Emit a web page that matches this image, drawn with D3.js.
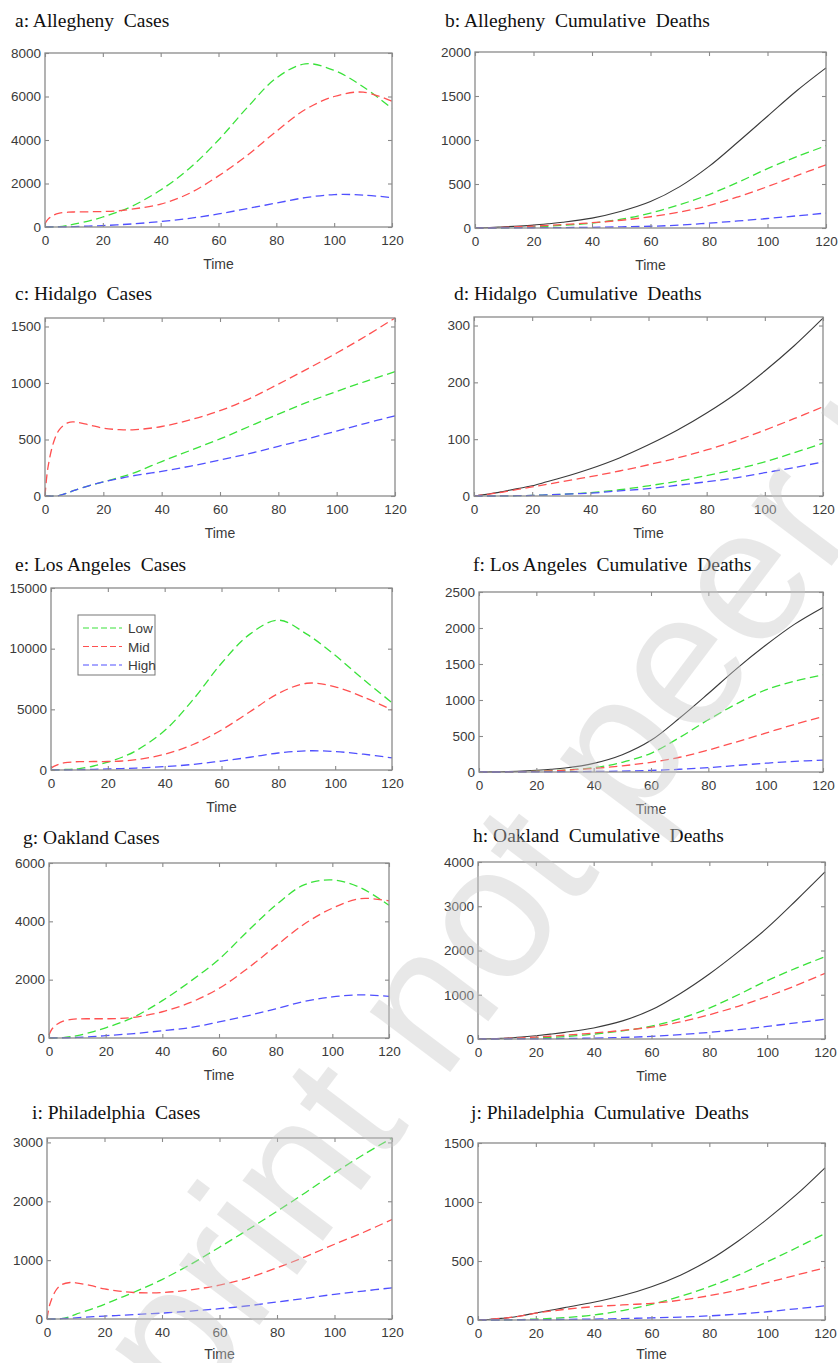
<!DOCTYPE html>
<html>
<head>
<meta charset="utf-8">
<script src="https://cdn.jsdelivr.net/npm/d3@7"></script>
<style>
  body { margin: 0; background: #fff; }
  svg { display: block; }
  .title { font-family: "Liberation Serif", "Times New Roman", serif; font-size: 19.5px; fill: #111; white-space: pre; }
  .tick text, .lab { font-family: "Liberation Sans", Arial, sans-serif; font-size: 13.5px; fill: #3a3a3a; }
  .xlab { font-size: 14px; }
</style>
</head>
<body>
<script>
var width = 838,
    height = 1363;

// time points (days)
var timeDays = [0, 1, 3, 5, 8, 10, 15, 20, 25, 30, 40, 50, 60, 70, 80, 90, 100, 110, 120];

// Allegheny
var alleghenyCasesLow  = [0, 0, 5, 20, 80, 130, 270, 460, 680, 950, 1700, 2700, 4000, 5500, 6850, 7500, 7200, 6450, 5450];
var alleghenyCasesMid  = [150, 350, 550, 640, 680, 690, 700, 710, 740, 820, 1050, 1550, 2350, 3300, 4400, 5400, 6000, 6200, 5780];
var alleghenyCasesHigh = [0, 0, 2, 5, 12, 20, 40, 65, 100, 140, 250, 400, 600, 850, 1100, 1350, 1490, 1470, 1350];
var alleghenyDeathsAll  = [0, 1, 3, 5, 10, 13, 22, 33, 48, 65, 112, 190, 300, 470, 700, 980, 1270, 1560, 1820];
var alleghenyDeathsLow  = [0, 0, 0, 1, 2, 3, 6, 12, 20, 30, 55, 100, 170, 265, 380, 520, 675, 810, 935];
var alleghenyDeathsMid  = [0, 0.5, 2, 3, 6, 8, 15, 22, 30, 40, 60, 88, 128, 182, 255, 355, 470, 595, 718];
var alleghenyDeathsHigh = [0, 0, 0, 0, 0.5, 1, 2, 3, 4, 5, 8, 13, 20, 33, 55, 80, 108, 138, 170];

// Hidalgo
var hidalgoCasesLow  = [0, 0, 0, 5, 30, 50, 90, 125, 160, 200, 305, 405, 505, 615, 725, 830, 925, 1015, 1100];
var hidalgoCasesMid  = [0, 250, 480, 590, 650, 655, 630, 600, 588, 585, 615, 675, 755, 860, 990, 1125, 1265, 1415, 1575];
var hidalgoCasesHigh = [0, 0, 0, 5, 30, 50, 90, 125, 152, 178, 218, 265, 318, 375, 440, 505, 575, 643, 710];
var hidalgoDeathsAll  = [0, 0.5, 2, 3.5, 6, 8, 13, 18, 25, 32, 48, 67, 90, 116, 146, 180, 220, 264, 313];
var hidalgoDeathsLow  = [0, 0, 0, 0, 0, 0.2, 0.5, 1, 2, 3, 6, 11, 18, 26, 36, 47, 60, 76, 93];
var hidalgoDeathsMid  = [0, 0.5, 2, 3, 5.5, 7, 11.5, 16, 20.5, 25, 34, 44, 55, 67, 81, 97, 116, 136, 157];
var hidalgoDeathsHigh = [0, 0, 0, 0, 0, 0.2, 0.5, 1, 2, 3, 5, 9, 13, 19, 25, 32, 41, 50, 60];

// Los Angeles
var laCasesLow  = [0, 5, 15, 40, 80, 120, 330, 650, 1050, 1600, 3250, 5800, 8800, 11200, 12350, 11200, 9450, 7450, 5550];
var laCasesMid  = [150, 300, 500, 600, 670, 690, 700, 700, 740, 850, 1300, 2100, 3300, 4800, 6300, 7150, 6850, 6000, 4950];
var laCasesHigh = [0, 0, 5, 10, 20, 30, 55, 85, 115, 160, 280, 460, 740, 1050, 1400, 1580, 1520, 1300, 1000];
var laDeathsAll  = [0, 0, 1, 2, 4, 6, 14, 25, 38, 55, 120, 240, 440, 750, 1090, 1440, 1760, 2050, 2285];
var laDeathsLow  = [0, 0, 0, 0, 1, 2, 5, 10, 17, 27, 60, 135, 260, 480, 725, 950, 1140, 1260, 1350];
var laDeathsMid  = [0, 0, 0, 0, 1, 2, 5, 10, 16, 25, 50, 85, 135, 205, 305, 420, 540, 660, 770];
var laDeathsHigh = [0, 0, 0, 0, 0, 0.5, 1, 2, 3, 4, 7, 12, 22, 38, 60, 92, 122, 148, 165];

// Oakland
var oaklandCasesLow  = [0, 0, 5, 15, 50, 80, 200, 350, 520, 720, 1280, 1950, 2700, 3650, 4550, 5250, 5420, 5150, 4550];
var oaklandCasesMid  = [100, 300, 480, 580, 640, 655, 660, 660, 670, 710, 900, 1220, 1700, 2380, 3150, 3900, 4450, 4780, 4700];
var oaklandCasesHigh = [0, 0, 2, 5, 12, 20, 45, 80, 115, 150, 250, 360, 550, 760, 1000, 1250, 1410, 1480, 1430];
var oaklandDeathsAll  = [0, 1, 4, 8, 15, 20, 45, 75, 110, 150, 250, 410, 660, 1030, 1470, 1970, 2510, 3130, 3775];
var oaklandDeathsLow  = [0, 0, 1, 2, 4, 6, 12, 22, 36, 55, 110, 185, 290, 465, 700, 1000, 1320, 1600, 1860];
var oaklandDeathsMid  = [0, 1, 3, 5, 9, 13, 25, 42, 62, 85, 135, 195, 270, 385, 548, 740, 960, 1210, 1485];
var oaklandDeathsHigh = [0, 0, 0, 0, 1, 1, 3, 5, 8, 12, 20, 35, 60, 100, 150, 210, 285, 365, 445];

// Philadelphia
var phillyCasesLow  = [0, 0, 0, 5, 40, 80, 160, 250, 350, 450, 670, 930, 1220, 1520, 1830, 2150, 2480, 2790, 3075];
var phillyCasesMid  = [0, 250, 480, 580, 620, 615, 570, 510, 475, 450, 450, 495, 575, 700, 870, 1060, 1270, 1470, 1690];
var phillyCasesHigh = [0, 0, 0, 5, 12, 20, 35, 50, 60, 75, 100, 135, 175, 225, 290, 350, 420, 475, 530];
var phillyDeathsAll  = [0, 1, 4, 8, 14, 18, 36, 60, 82, 105, 150, 207, 282, 380, 508, 670, 855, 1060, 1290];
var phillyDeathsLow  = [0, 0, 0, 0, 1, 1, 4, 8, 13, 20, 42, 80, 133, 200, 282, 380, 493, 610, 733];
var phillyDeathsMid  = [0, 1, 4, 8, 14, 18, 35, 58, 75, 90, 113, 128, 141, 168, 206, 255, 316, 380, 443];
var phillyDeathsHigh = [0, 0, 0, 0, 0, 1, 2, 3, 4, 5, 8, 12, 18, 25, 35, 50, 70, 95, 120];

var xTicks = [0, 20, 40, 60, 80, 100, 120];
var legendLabels = ["Low", "Mid", "High"];

var colors = { low: "#3ae23a", mid: "#ff5050", high: "#5050ff", all: "#3a3a3a" };

// panel layout: box left/right/top/bottom, title position, x label offset
var panels = [
  { title: "a: Allegheny  Cases", tx: 15, ty: 27, x0: 45, x1: 392, y0: 53, y1: 227, lx: 42, ymax: 8000, yTicks: [0, 2000, 4000, 6000, 8000],
    series: [[alleghenyCasesLow, "low"], [alleghenyCasesMid, "mid"], [alleghenyCasesHigh, "high"]] },
  { title: "b: Allegheny  Cumulative  Deaths", tx: 445, ty: 27, x0: 475, x1: 826, y0: 52, y1: 228, lx: 42, ymax: 2000, yTicks: [0, 500, 1000, 1500, 2000],
    series: [[alleghenyDeathsAll, "all"], [alleghenyDeathsLow, "low"], [alleghenyDeathsMid, "mid"], [alleghenyDeathsHigh, "high"]] },
  { title: "c: Hidalgo  Cases", tx: 15, ty: 300, x0: 45, x1: 395, y0: 318, y1: 496, lx: 42, ymax: 1575, yTicks: [0, 500, 1000, 1500],
    series: [[hidalgoCasesLow, "low"], [hidalgoCasesMid, "mid"], [hidalgoCasesHigh, "high"]] },
  { title: "d: Hidalgo  Cumulative  Deaths", tx: 454, ty: 300, x0: 474, x1: 823, y0: 317, y1: 496, lx: 42, ymax: 315, yTicks: [0, 100, 200, 300],
    series: [[hidalgoDeathsAll, "all"], [hidalgoDeathsLow, "low"], [hidalgoDeathsMid, "mid"], [hidalgoDeathsHigh, "high"]] },
  { title: "e: Los Angeles  Cases", tx: 15, ty: 571, x0: 51, x1: 392, y0: 588, y1: 770, lx: 42, ymax: 15000, yTicks: [0, 5000, 10000, 15000], legend: true,
    series: [[laCasesLow, "low"], [laCasesMid, "mid"], [laCasesHigh, "high"]] },
  { title: "f: Los Angeles  Cumulative  Deaths", tx: 473, ty: 571, x0: 479, x1: 823, y0: 592, y1: 772, lx: 42, ymax: 2500, yTicks: [0, 500, 1000, 1500, 2000, 2500],
    series: [[laDeathsAll, "all"], [laDeathsLow, "low"], [laDeathsMid, "mid"], [laDeathsHigh, "high"]] },
  { title: "g: Oakland Cases", tx: 23, ty: 844, x0: 49, x1: 389, y0: 863, y1: 1038, lx: 42, ymax: 6000, yTicks: [0, 2000, 4000, 6000],
    series: [[oaklandCasesLow, "low"], [oaklandCasesMid, "mid"], [oaklandCasesHigh, "high"]] },
  { title: "h: Oakland  Cumulative  Deaths", tx: 473, ty: 842, x0: 478, x1: 825, y0: 862, y1: 1039, lx: 42, ymax: 4000, yTicks: [0, 1000, 2000, 3000, 4000],
    series: [[oaklandDeathsAll, "all"], [oaklandDeathsLow, "low"], [oaklandDeathsMid, "mid"], [oaklandDeathsHigh, "high"]] },
  { title: "i: Philadelphia  Cases", tx: 32, ty: 1119, x0: 47, x1: 392, y0: 1138, y1: 1319, lx: 40, ymax: 3075, yTicks: [0, 1000, 2000, 3000],
    series: [[phillyCasesLow, "low"], [phillyCasesMid, "mid"], [phillyCasesHigh, "high"]] },
  { title: "j: Philadelphia  Cumulative  Deaths", tx: 471, ty: 1119, x0: 478, x1: 825, y0: 1143, y1: 1320, lx: 39, ymax: 1500, yTicks: [0, 500, 1000, 1500],
    series: [[phillyDeathsAll, "all"], [phillyDeathsLow, "low"], [phillyDeathsMid, "mid"], [phillyDeathsHigh, "high"]] }
];

var svg = d3.select("body").append("svg")
    .attr("width", width)
    .attr("height", height);

panels.forEach(function (p) {
  var x = d3.scaleLinear().domain([0, 120]).range([p.x0, p.x1]);
  var y = d3.scaleLinear().domain([0, p.ymax]).range([p.y1, p.y0]);
  var g = svg.append("g");

  g.append("text").attr("class", "title")
      .attr("x", p.tx).attr("y", p.ty).text(p.title);

  // lines
  var line = d3.line()
      .x(function (d, i) { return x(timeDays[i]); })
      .y(function (d) { return y(d); })
      .curve(d3.curveCatmullRom.alpha(0.5));

  p.series.forEach(function (s) {
    g.append("path")
        .datum(s[0])
        .attr("fill", "none")
        .attr("stroke", colors[s[1]])
        .attr("stroke-width", s[1] == "all" ? 1.1 : 1.3)
        .attr("stroke-dasharray", s[1] == "all" ? null : "8.5,4.5")
        .attr("d", line);
  });

  // axes with inward ticks, box style
  var axisCol = "#8a8a8a";
  g.append("g").attr("transform", "translate(0," + p.y1 + ")")
      .call(d3.axisBottom(x).tickValues(xTicks).tickSizeInner(-4).tickSizeOuter(0).tickPadding(8))
      .call(styleAxis);
  g.append("g").attr("transform", "translate(0," + p.y0 + ")")
      .call(d3.axisTop(x).tickValues(xTicks).tickSizeInner(-4).tickSizeOuter(0).tickFormat(""))
      .call(styleAxis);
  g.append("g").attr("transform", "translate(" + p.x0 + ",0)")
      .call(d3.axisLeft(y).tickValues(p.yTicks).tickSizeInner(-4).tickSizeOuter(0).tickPadding(4).tickFormat(d3.format("d")))
      .call(styleAxis);
  g.append("g").attr("transform", "translate(" + p.x1 + ",0)")
      .call(d3.axisRight(y).tickValues(p.yTicks).tickSizeInner(-4).tickSizeOuter(0).tickFormat(""))
      .call(styleAxis);

  g.append("rect")
      .attr("x", p.x0).attr("y", p.y0)
      .attr("width", p.x1 - p.x0).attr("height", p.y1 - p.y0)
      .attr("fill", "none").attr("stroke", axisCol).attr("stroke-width", 1.3);

  g.append("text").attr("class", "lab xlab")
      .attr("x", (p.x0 + p.x1) / 2).attr("y", p.y1 + p.lx)
      .attr("text-anchor", "middle").text("Time");

  if (p.legend) {
    var lg = g.append("g").attr("transform", "translate(78,615)");
    lg.append("rect").attr("width", 77).attr("height", 60)
        .attr("fill", "#fff").attr("stroke", "#777").attr("stroke-width", 1);
    ["low", "mid", "high"].forEach(function (k, i) {
      var yy = 13 + i * 18.5;
      lg.append("line").attr("x1", 5).attr("x2", 44).attr("y1", yy).attr("y2", yy)
          .attr("stroke", colors[k]).attr("stroke-width", 1.2).attr("stroke-dasharray", "6,3");
      lg.append("text").attr("class", "lab").attr("x", 50).attr("y", yy + 5).text(legendLabels[i]);
    });
  }

  function styleAxis(sel) {
    sel.select(".domain").remove();
    sel.selectAll(".tick line").attr("stroke", axisCol).attr("stroke-width", 1.1);
    sel.selectAll(".tick text").attr("fill", "#3a3a3a");
  }
});

// watermark
svg.append("text")
    .attr("transform", "translate(10,1656) rotate(-53)")
    .attr("font-family", "Liberation Sans, Arial, sans-serif")
    .attr("font-size", 190)
    .attr("fill", "#c8c8c8")
    .attr("opacity", 0.4)
    .text("Preprint not peer reviewed");
</script>
</body>
</html>
